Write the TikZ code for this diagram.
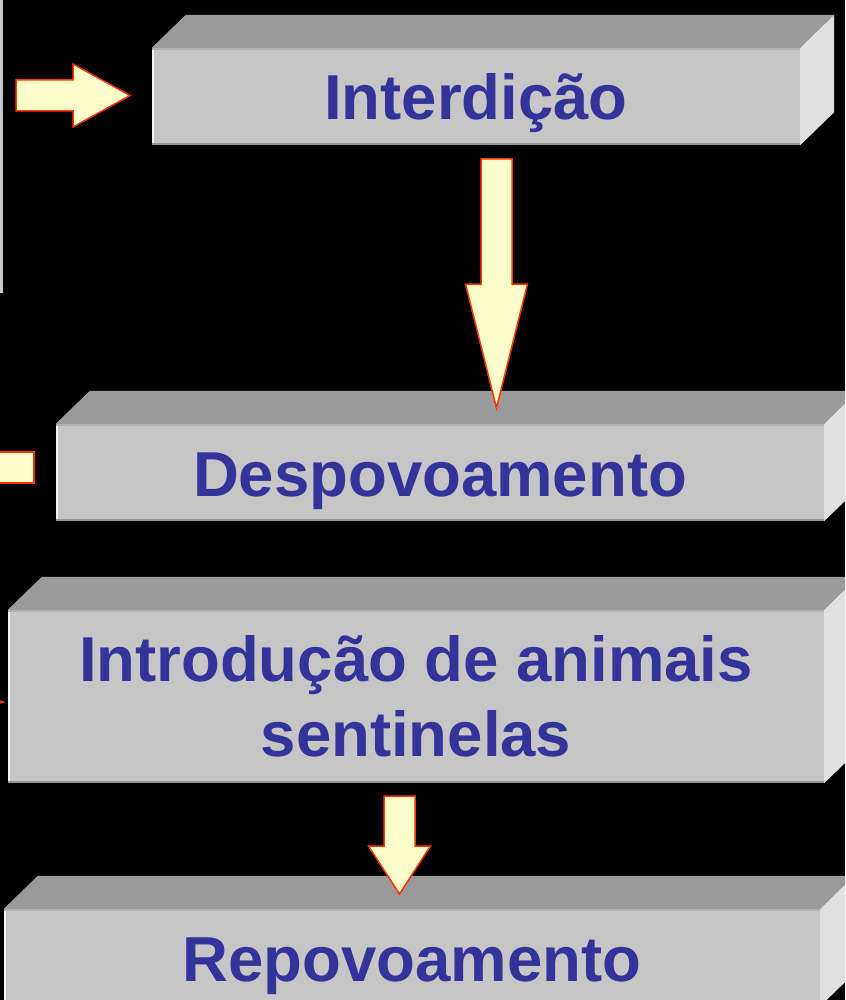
\documentclass[tikz,border=0pt]{standalone}
\usepackage{fontspec}
\setmainfont{Liberation Sans}
\usetikzlibrary{calc}

\definecolor{frontgray}{HTML}{C6C6C6}
\definecolor{topgray}{HTML}{9A9A9A}
\definecolor{sidegray}{HTML}{E0E0E0}
\definecolor{labelblue}{HTML}{333399}
\definecolor{arrowfill}{HTML}{FFFFCC}
\definecolor{arrowline}{HTML}{FF3300}

\tikzset{
  stage/.style={fill=frontgray, inner sep=0pt, text=labelblue,
    font=\fontsize{63.5}{75}\selectfont\bfseries, align=center},
  oneline/.style={text height=47pt, text depth=0pt},
  topface/.style={fill=topgray},
  sideface/.style={fill=sidegray},
  blockarrow/.style={fill=arrowfill, draw=arrowline, line width=1.5pt, line join=miter}
}

% side and top of a box, drawn from the front node
\newcommand{\boxfaces}[1]{%
  \fill[topface] (#1.north west) -- ++(34,-33) -- ($(#1.north east)+(34,-33)$) -- (#1.north east) -- cycle;
  \fill[sideface] (#1.north east) -- ++(34,-33) -- ($(#1.south east)+(34,-33)$) -- (#1.south east) -- cycle;
  \draw[white!80!frontgray, line width=2pt] ([xshift=1pt]#1.south west) -- ([xshift=1pt]#1.north west);
  \draw[black!25!frontgray, line width=2pt] ([yshift=1pt]#1.south west) -- ([yshift=1pt]#1.south east);
  \draw[black!10!frontgray, line width=2pt] ([yshift=-1pt]#1.north west) -- ([yshift=-1pt]#1.north east);
}
% block arrows: start point, shaft length, head length
\newcommand{\fatdown}[3]{%
  \draw[blockarrow] (#1) ++(-15.5,0) -- ++(31,0) -- ++(0,#2) -- ++(15.5,0) -- ++(-31,#3) -- ++(-31,-#3) -- ++(15.5,0) -- cycle;}
\newcommand{\fatright}[3]{%
  \draw[blockarrow] (#1) ++(0,-15.5) -- ++(0,31) -- ++(#2,0) -- ++(0,16) -- ++(#3,-31.5) -- ++(-#3,-31.5) -- ++(0,16) -- cycle;}

\begin{document}
\begin{tikzpicture}[x=1pt, y=-1pt]
  \useasboundingbox (0,0) rectangle (845,1000);
  \clip (0,0) rectangle (845,1000);
  \fill[black] (0,0) rectangle (845,1000);

  % stages
  \node[stage, oneline, minimum width=648pt, minimum height=97pt] (interd) at (476,96.5) {Interdição};
  \boxfaces{interd}
  \node[stage, oneline, minimum width=768pt, minimum height=97pt] (despov) at (440,472.5) {Despovoamento};
  \boxfaces{despov}
  \node[stage, minimum width=816pt, minimum height=173pt] (sentin) at (416,696.5) {Introdução de animais\\sentinelas};
  \boxfaces{sentin}
  \node[stage, oneline, minimum width=816pt, minimum height=97pt] (repov) at (412,957.5) {Repovoamento};
  \boxfaces{repov}

  % left margin pieces
  \draw[gray!45, line width=2.5pt] (1.5,0) -- (1.5,293);
  \coordinate (inA) at (16,95.5);
  \fatright{inA}{57}{57}
  \draw[blockarrow] (-10,452) rectangle (34,483);
  \draw[blockarrow] (-40,690) -- (3,702) -- (-40,714) -- cycle;

  % flow arrows
  \coordinate (downA) at (496.5,159);
  \fatdown{downA}{125}{124}
  \coordinate (downB) at (399.5,796);
  \fatdown{downB}{50}{48}
\end{tikzpicture}
\end{document}
